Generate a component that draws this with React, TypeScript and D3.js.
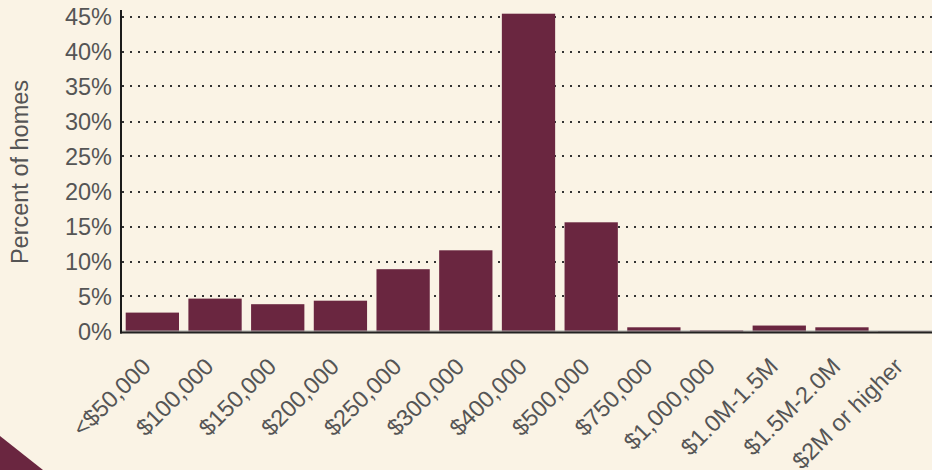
import React from "react";
import * as d3 from "d3";

const categories = [
  "<$50,000", "$100,000", "$150,000", "$200,000", "$250,000", "$300,000",
  "$400,000", "$500,000", "$750,000", "$1,000,000", "$1.0M-1.5M", "$1.5M-2.0M", "$2M or higher",
];
const values = [2.7, 4.7, 3.9, 4.4, 8.9, 11.6, 45.4, 15.6, 0.6, 0.15, 0.85, 0.6, 0.05];
const yTicks = [0, 5, 10, 15, 20, 25, 30, 35, 40, 45];

const W = 932;
const H = 470;
const BG = "#faf3e5";
const BAR = "#6a2640";
const TXT = "#555555";
const FONT = "'Liberation Sans', Arial, sans-serif";
const FS = 23.5;

export default function App() {
  const x = d3
    .scaleBand<string>()
    .domain(categories)
    .range([121, 936])
    .paddingInner(0.15)
    .paddingOuter(0.075);
  const y = d3.scaleLinear().domain([0, 45]).range([331.5, 16.5]);

  return (
    <svg
      width={W}
      height={H}
      style={{ position: "absolute", left: 0, top: 0, background: BG, fontFamily: FONT }}
    >
      <rect x={0} y={0} width={W} height={H} fill={BG} />
      {/* corner decoration */}
      <polygon points="0,436 43,470 0,470" fill={BAR} />

      {/* gridlines */}
      {yTicks.filter((t) => t > 0).map((t) => (
        <line
          key={"g" + t}
          x1={122}
          x2={W}
          y1={Math.round(y(t))}
          y2={Math.round(y(t))}
          stroke="#333"
          strokeWidth={2}
          strokeDasharray="2,6"
        />
      ))}

      {/* bars */}
      {categories.map((c, i) => (
        <rect
          key={c}
          x={x(c)}
          y={y(values[i])}
          width={x.bandwidth()}
          height={y(0) - y(values[i])}
          fill={BAR}
        />
      ))}

      {/* axes */}
      <line x1={121} x2={W} y1={331} y2={331} stroke="#aaa" strokeWidth={1} />
      <line x1={120} x2={W} y1={332.5} y2={332.5} stroke="#222" strokeWidth={2} />
      <line x1={121} x2={121} y1={10} y2={333.5} stroke="#1a1a1a" strokeWidth={2} />

      {/* y tick labels */}
      {yTicks.map((t) => (
        <text
          key={"t" + t}
          x={112}
          y={y(t)}
          dy="0.36em"
          textAnchor="end"
          fontSize={FS}
          fill={TXT}
        >
          {t}%
        </text>
      ))}

      {/* y axis title */}
      <text
        transform={`translate(28,172) rotate(-90)`}
        textAnchor="middle"
        fontSize={FS}
        fill={TXT}
      >
        Percent of homes
      </text>

      {/* x labels */}
      {categories.map((c) => (
        <text
          key={"x" + c}
          transform={`translate(${(x(c) as number) + x.bandwidth() / 2},368) rotate(-45)`}
          textAnchor="end"
          fontSize={FS}
          fill={TXT}
        >
          {c}
        </text>
      ))}
    </svg>
  );
}
